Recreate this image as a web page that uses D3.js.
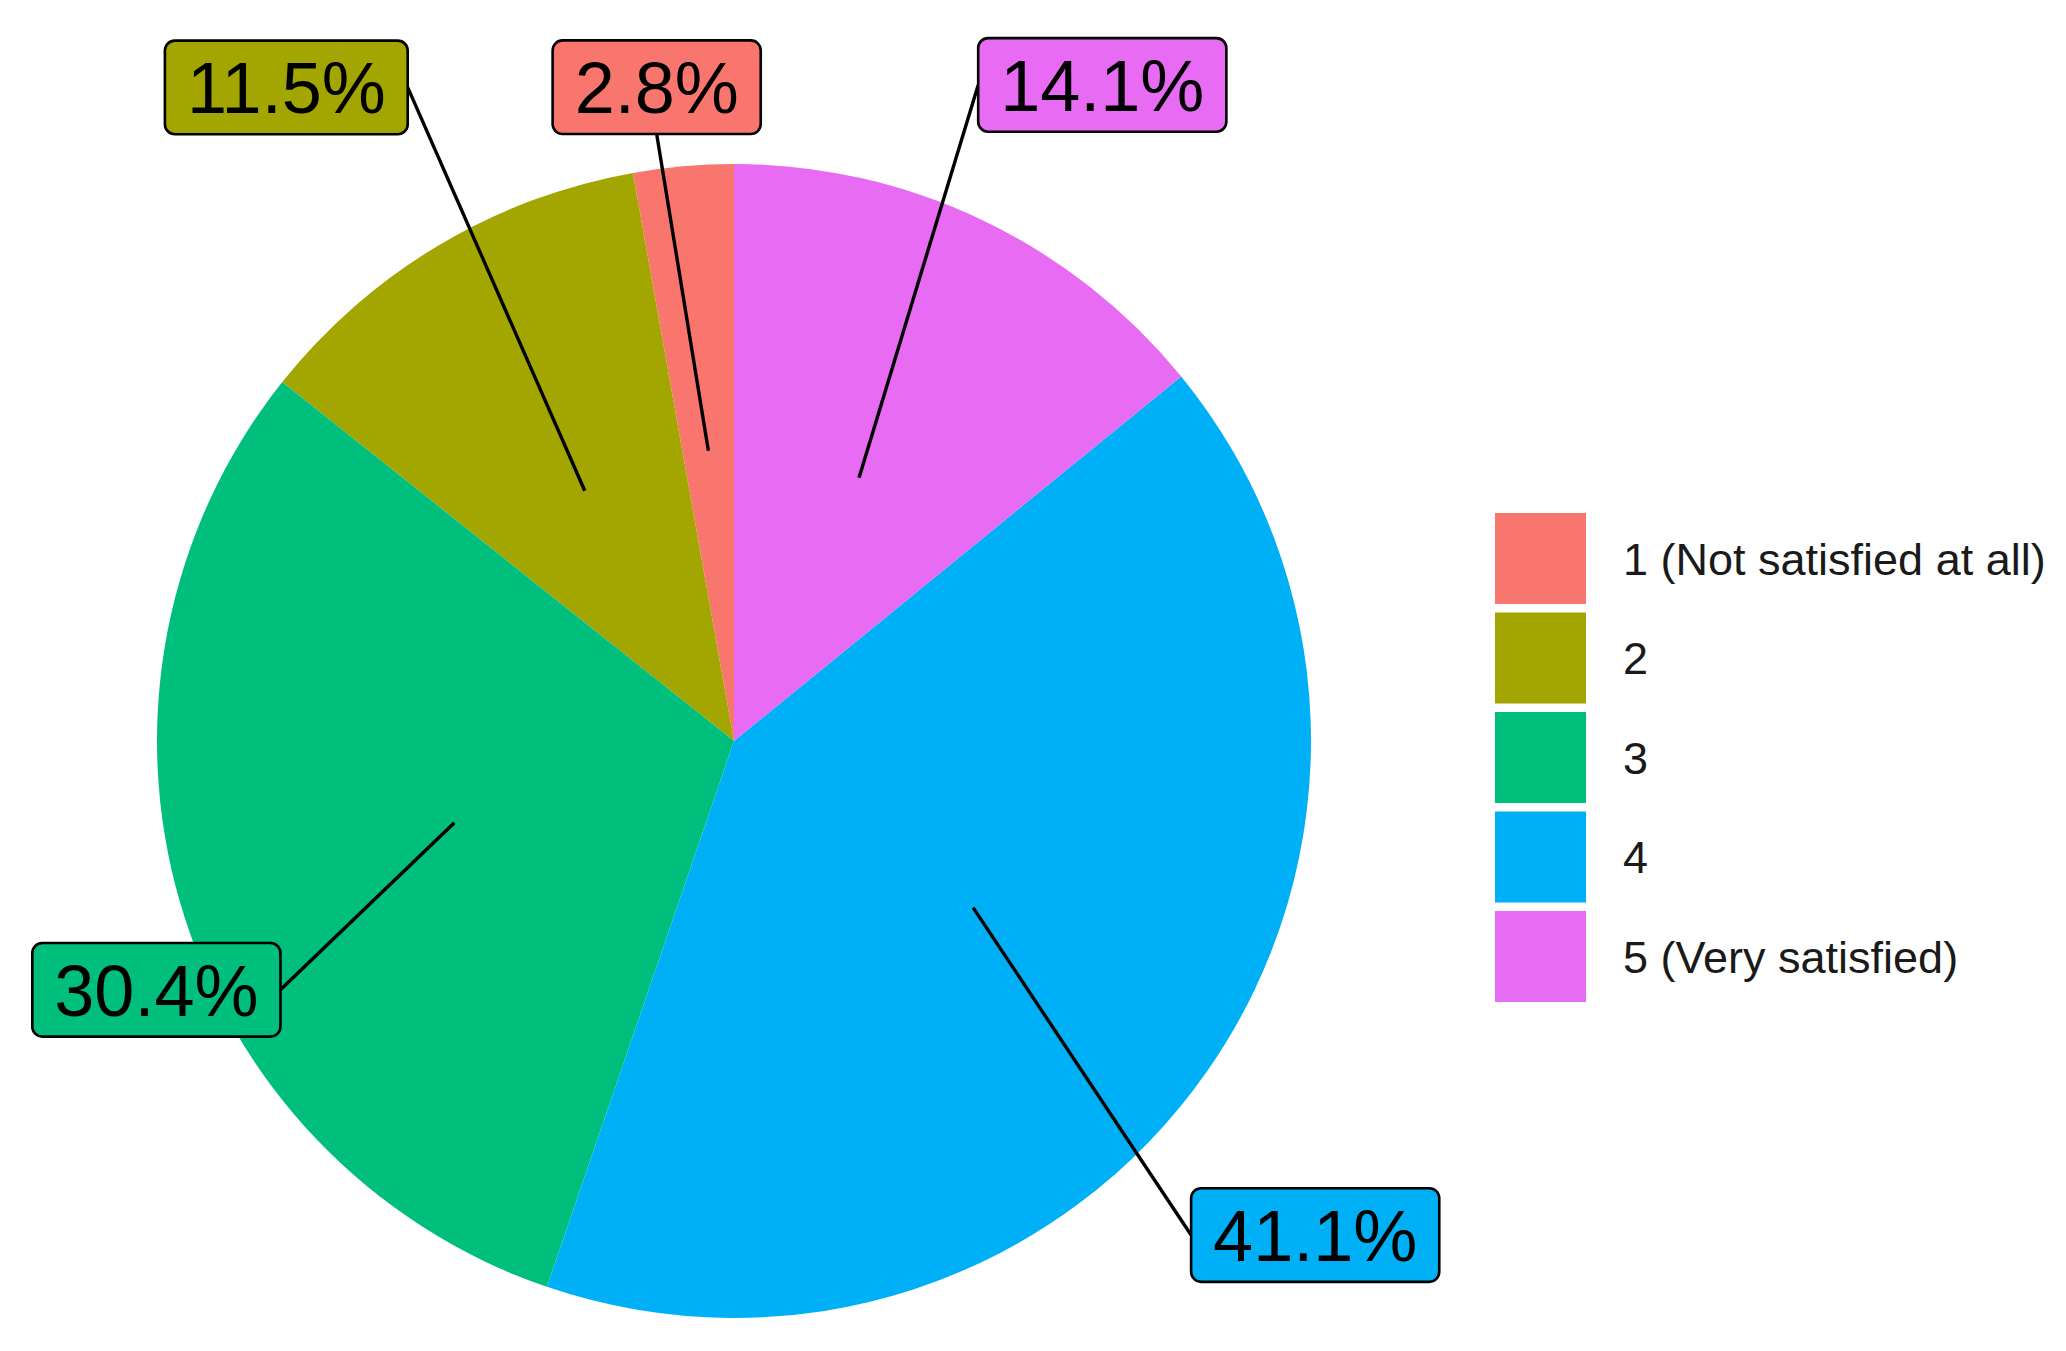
<!DOCTYPE html>
<html>
<head>
<meta charset="utf-8">
<script src="https://cdn.jsdelivr.net/npm/d3@7"></script>
<style>
  html, body { margin: 0; padding: 0; background: #fff; }
  svg { display: block; font-family: "Liberation Sans", Arial, Helvetica, sans-serif; }
</style>
</head>
<body>
<div id="chart"></div>
<script>
// satisfaction levels, in stacking order
var categories = ['1 (Not satisfied at all)', '2', '3', '4', '5 (Very satisfied)'];
var shares     = [2.8, 11.5, 30.4, 41.1, 14.1];
var colours    = ['#F8766D', '#A3A500', '#00BF7D', '#00B0F6', '#E76BF3'];

var width  = 2066,
    height = 1351,
    cx     = 734,
    cy     = 741,
    radius = 577,
    labelFont = 72,
    labelPad  = 22;

// where the repelled labels ended up: angle shift (deg) from slice middle, distance in radii
var labelPlace = {
  '1 (Not satisfied at all)': { shift: -1.7, dist: 1.141 },
  '2':                        { shift: -3.6, dist: 1.373 },
  '3':                        { shift: -7.0, dist: 1.090 },
  '4':                        { shift:  5.5, dist: 1.322 },
  '5 (Very satisfied)':       { shift:  3.9, dist: 1.304 }
};

var data = categories.map(function(c, i){
  return { cat: c, value: shares[i] };
});

var colour = d3.scaleOrdinal().domain(categories).range(colours);

var svg = d3.select('#chart').append('svg')
  .attr('width', width)
  .attr('height', height);

svg.append('rect').attr('width', width).attr('height', height).attr('fill', '#fff');

// ggplot coord_polar: first level just left of 12 o'clock, going anticlockwise
var pie = d3.pie()
  .sort(null)
  .startAngle(0)
  .endAngle(-2 * Math.PI)
  .value(function(d){ return d.value; });

var arc = d3.arc().innerRadius(0).outerRadius(radius);

var arcs = pie(data);

var g = svg.append('g').attr('transform', 'translate(' + cx + ',' + cy + ')');

g.selectAll('path.slice')
  .data(arcs)
  .enter()
  .append('path')
  .attr('class', 'slice')
  .attr('d', arc)
  .attr('fill', function(d){ return colour(d.data.cat); });

function polar(angle, r){
  return [r * Math.sin(angle), -r * Math.cos(angle)];
}

// LABELS
var labels = g.append('g').attr('class', 'labels');

arcs.forEach(function(d){
  var mid    = (d.startAngle + d.endAngle) / 2,
      place  = labelPlace[d.data.cat],
      anchor = polar(mid, radius * 0.505),
      centre = polar(mid + place.shift * Math.PI / 180, radius * place.dist);

  var lab = labels.append('g');

  var txt = lab.append('text')
    .attr('x', centre[0])
    .attr('y', centre[1] + labelFont * 0.716 / 2)
    .attr('text-anchor', 'middle')
    .attr('font-size', labelFont)
    .attr('fill', '#000')
    .text(d.data.value.toFixed(1) + '%');

  var tw = txt.node().getComputedTextLength(),
      bw = tw + 2 * labelPad,
      bh = labelFont * 1.3,
      x1 = centre[0] - bw / 2,
      x2 = centre[0] + bw / 2,
      y1 = centre[1] - bh / 2,
      y2 = centre[1] + bh / 2;

  // segment joins the midpoint of the box edge facing the slice
  var start;
  if (anchor[0] >= x1 && anchor[0] <= x2){
    start = [centre[0], anchor[1] > centre[1] ? y2 : y1];
  } else {
    start = [anchor[0] > centre[0] ? x2 : x1, centre[1]];
  }

  labels.insert('line', ':first-child')
    .attr('x1', anchor[0]).attr('y1', anchor[1])
    .attr('x2', start[0]).attr('y2', start[1])
    .attr('stroke', '#000')
    .attr('stroke-width', 3.4);

  lab.insert('rect', 'text')
    .attr('x', x1).attr('y', y1)
    .attr('width', bw).attr('height', bh)
    .attr('rx', 10).attr('ry', 10)
    .attr('fill', colour(d.data.cat))
    .attr('stroke', '#000')
    .attr('stroke-width', 2.6);
});

// LEGEND
var keySize = 91,
    keyStep = 99.5;

var legend = svg.append('g')
  .attr('transform', 'translate(1495,513)');

var item = legend.selectAll('g.key')
  .data(categories)
  .enter()
  .append('g')
  .attr('class', 'key')
  .attr('transform', function(d, i){ return 'translate(0,' + i * keyStep + ')'; });

item.append('rect')
  .attr('width', keySize)
  .attr('height', keySize)
  .attr('fill', colour);

item.append('text')
  .attr('x', 128)
  .attr('y', keySize / 2 + 45 * 0.716 / 2)
  .attr('font-size', 45)
  .attr('fill', '#1a1a1a')
  .text(function(d){ return d; });
</script>
</body>
</html>
